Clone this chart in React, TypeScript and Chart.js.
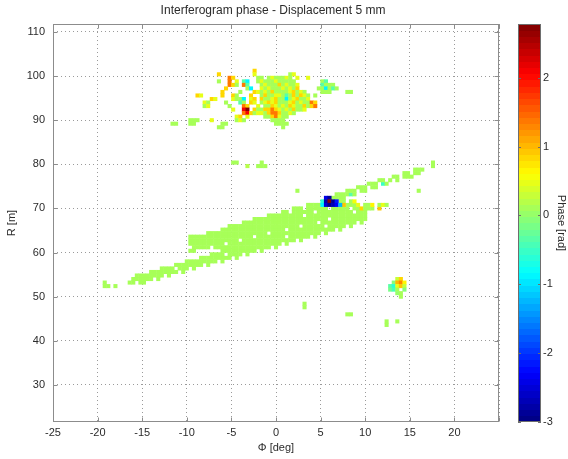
import { useEffect, useRef } from "react";
import { Chart, registerables } from "chart.js";

Chart.register(...registerables);

// Axis limits
const PHI_MIN = -25;
const PHI_MAX = 25;
const R_MIN = 21.6;
const R_MAX = 111.8;
const PHASE_MIN = -3;
const PHASE_MAX = 2.78;

const phiTicks = [-25, -20, -15, -10, -5, 0, 5, 10, 15, 20, 25];
const rTicks = [30, 40, 50, 60, 70, 80, 90, 100, 110];
const phaseTicks = [-3, -2, -1, 0, 1, 2];

// Resolution of the resampled interferogram grid
const PHI_STEP = 0.4; // deg
const R_STEP = 0.8; // m

// Phase of the coherent target band [rad]
const BAND_PHASE = 0.1;

// Target band, row by row: [R, phi from, phi to]
const bandSpans: [number, number, number][] = [
  [52.4, -19.2, -18.8],
  [52.4, -18.0, -18.0],
  [53.2, -19.2, -19.2],
  [53.2, -16.4, -14.8],
  [54.0, -16.4, -13.2],
  [54.8, -15.6, -12.0],
  [55.6, -14.4, -10.4],
  [56.4, -12.8, -9.2],
  [57.2, -11.6, -7.6],
  [58.0, -10.0, -6.0],
  [58.8, -8.4, -4.4],
  [59.6, -7.2, -3.2],
  [60.4, -9.6, -9.2],
  [60.4, -6.0, -1.6],
  [61.2, -9.6, -7.6],
  [61.2, -6.8, 0.0],
  [62.0, -9.6, -6.0],
  [62.0, -5.2, 1.2],
  [62.8, -9.6, 2.8],
  [63.6, -9.6, 4.4],
  [64.4, -8.0, 5.6],
  [65.2, -6.4, 7.2],
  [66.0, -5.2, 8.4],
  [66.8, -3.6, 9.6],
  [67.6, -2.4, 10.0],
  [68.4, -0.8, 10.0],
  [69.2, 0.8, 10.0],
  [70.0, 2.0, 10.0],
  [70.0, 10.4, 11.6],
  [70.8, 3.6, 4.8],
  [70.8, 8.0, 12.4],
  [71.6, 7.2, 8.8],
  [72.4, 6.4, 7.6],
  [73.2, 6.8, 8.8],
  [74.0, 8.0, 10.0],
  [74.8, 9.2, 11.2],
  [75.6, 10.4, 12.4],
  [76.4, 11.6, 13.6],
  [77.2, 13.2, 15.2],
  [78.0, 14.4, 16.0],
  [78.8, 15.6, 16.4],
];

// Incoherent cells inside the band: [R, phi]
const bandHoles: [number, number][] = [
  [53.2, -15.6], [54.0, -13.6], [54.8, -12.4], [55.6, -10.8], [56.4, -9.6],
  [57.2, -8.0], [58.0, -6.4], [58.8, -4.8], [59.6, -3.6], [60.4, -2.0],
  [61.2, -0.4], [62.0, 0.8], [62.8, 2.4], [63.6, 4.0], [64.4, 5.2],
  [65.2, 6.8], [66.0, 8.0], [66.8, 9.2],
  [54.0, -16.4], [55.6, -14.4], [57.2, -11.6], [61.2, -9.6],
  [64.4, -8.0], [65.2, -6.4],
  [62.8, -4.0], [63.6, -2.4], [64.4, -0.8], [65.2, 1.2], [66.0, 2.8],
  [66.8, 4.8], [67.6, 6.0], [68.4, 3.2],
  [69.2, 1.6], [69.2, 4.4], [70.0, 3.2], [70.0, 6.0], [70.0, 8.4],
  [69.2, 8.8], [70.8, 9.6], [70.8, 11.2], [70.0, 11.2], [71.6, 8.0],
  [74.0, 9.2], [74.8, 10.4], [75.6, 11.6], [76.4, 12.4], [76.4, 13.2],
  [77.2, 14.0], [78.0, 15.2],
  [56.4, -11.2], [59.6, -5.6], [63.6, 1.2], [66.0, 5.6],
];

// Cells with a different phase along the band edge: [phi, R, phase]
const bandSpeckles: [number, number, number][] = [
  [7.6, 70.8, 0.9], [9.2, 70.8, 0.5], [9.6, 70.0, 0.8], [10.8, 70.8, 0.7],
  [11.6, 70.0, 0.9], [12.0, 70.8, 0.5], [8.8, 71.6, 0.6], [12.0, 75.6, -0.5],
  [8.4, 73.2, -0.3],
];

// Phase-wrapped spot on the band: [phi, R, phase]
const spotCells: [number, number, number][] = [
  [5.2, 71.6, -0.6], [5.2, 70.8, -0.9],
  [5.6, 72.4, -2.4], [5.6, 71.6, -2.8], [5.6, 70.8, -2.5],
  [6.0, 72.4, -2.9], [6.0, 71.6, 2.7], [6.0, 70.8, -3.0],
  [6.4, 71.6, -2.9], [6.4, 70.8, -2.7],
  [6.8, 71.6, -2.1], [6.8, 70.8, -2.3],
  [7.2, 70.8, -1.2],
];

// Small reflector near 14 deg / 52 m: [phi, R, phase]
const blobCells: [number, number, number][] = [
  [13.6, 54.0, 0.3], [14.0, 54.0, 0.8],
  [13.2, 53.2, -0.1], [13.6, 53.2, 1.0], [14.0, 53.2, 1.3], [14.4, 53.2, 0.7],
  [12.8, 52.4, -0.3], [13.2, 52.4, -0.6], [13.6, 52.4, 0.5], [14.0, 52.4, 0.9], [14.4, 52.4, 0.3],
  [12.8, 51.6, -0.2], [13.2, 51.6, -0.4], [13.6, 51.6, 0.1], [14.4, 51.6, -0.1],
  [13.6, 50.8, 0.0], [14.0, 50.8, 0.1],
  [14.0, 50.0, 0.1],
];

// Isolated coherent cells: [phi, R, phase]
const isolatedCells: [number, number, number][] = [
  [-11.6, 89.2, 0.1], [-11.2, 89.2, 0.1],
  [-4.8, 80.4, 0.1], [-4.4, 80.4, 0.1],
  [-3.2, 79.6, 0.2],
  [-1.6, 80.4, 0.1], [-2.0, 79.6, 0.1], [-1.6, 79.6, 0.1], [-1.2, 79.6, 0.1],
  [2.4, 74.0, 0.1],
  [16.0, 74.0, 0.1],
  [17.6, 80.4, 0.1], [17.6, 79.6, 0.1],
  [3.2, 48.4, 0.1], [3.2, 47.6, 0.1],
  [8.0, 46.0, 0.1], [8.4, 46.0, 0.1],
  [12.4, 44.4, 0.1], [12.4, 43.6, 0.1],
  [13.6, 44.4, 0.1],
];

// Vegetation cluster at 88-101 m. Each row: [R, "column+code ..."],
// column 0 sits at CLUSTER_PHI0 and columns are PHI_STEP apart.
const CLUSTER_PHI0 = -10.0;
const clusterCodes: Record<string, number> = {
  g: 0.1, l: 0.45, y: 0.85, o: 1.4, r: 2.1, d: 2.7, c: -0.9, t: -0.35,
};
const clusterRows: [number, string][] = [
  [101.2, "19y"],
  [100.4, "9y 19l 29g 30l"],
  [99.6, "12o 13y 20g 21g 23g 24l 25g 26g 27g 28l 29g 31l 34l"],
  [98.8, "9g 12o 14l 16t 17c 20g 21l 22g 23g 24g 25l 26g 27g 28g 29g 30g 38g 39t"],
  [98.0, "12o 13y 14g 16o 17t 21g 22l 23g 24g 25g 26y 27g 28l 29g 30g 31l 38t 39g 40g 41g"],
  [97.2, "11y 17g 18c 21l 22g 23l 24g 25g 26g 27l 28g 29l 30g 31y 37g 38g 39c 40g 41t 42g"],
  [96.4, "10y 15g 19y 20l 21g 22l 23g 24y 25g 26g 27g 28g 29l 30y 31g 32l 33g 38g 39g 40g 45g 46g"],
  [95.6, "3y 4l 10y 13y 14g 18y 21g 22y 23g 24g 25l 26l 27g 28t 29g 30y 31g 32y 33l 34g 36g"],
  [94.8, "7y 8l 13l 14g 15g 16c 18l 19y 21y 22g 23g 24l 25y 26g 27g 28c 29g 30l 31y 32g 33g 34l"],
  [94.0, "5l 6g 11g 15t 16g 18y 19l 21g 22l 23y 24l 25y 26g 27g 28g 29l 30y 31g 32l 33g 34g 35o 36y"],
  [93.2, "5g 6l 12g 16o 17y 20l 22g 23g 24y 25l 26g 27l 28g 29y 30l 31g 32g 33y 34g 35y 36o"],
  [92.4, "13l 16r 17d 19y 20g 21g 22y 23y 24o 25y 26l 27g 28l 29g 30y 31g 32g 33l"],
  [91.6, "16o 17r 18y 19g 20l 21l 22g 23y 24o 25o 26y 27g 28g 29l 30g"],
  [90.8, "14l 15y 17l 22g 23g 24y 25o 26l 27g 28g"],
  [90.0, "1g 2g 3g 7l 14g 15l 16g 24g 25g 26g 27g"],
  [89.2, "1g 2g 10g 11g 25g 26g 27g 28g"],
  [88.4, "9g 10g 27g"],
];

const FONT = '"Liberation Sans", Arial, Helvetica, sans-serif';
const TEXT = "#2b2b2b";

type Cell = { x: number; y: number; v: number };

function buildCells(): Cell[] {
  const grid = new Map<string, Cell>();
  const key = (i: number, r: number) => i + ":" + Math.round(r * 10);
  const put = (phi: number, r: number, v: number) => {
    const i = Math.round(phi / PHI_STEP);
    grid.set(key(i, r), { x: i * PHI_STEP, y: r, v });
  };
  for (const [r, a, b] of bandSpans) {
    const i1 = Math.round(b / PHI_STEP);
    for (let i = Math.round(a / PHI_STEP); i <= i1; i++) put(i * PHI_STEP, r, BAND_PHASE);
  }
  for (const [r, phi] of bandHoles) grid.delete(key(Math.round(phi / PHI_STEP), r));
  for (const [phi, r, v] of bandSpeckles) put(phi, r, v);
  for (const [phi, r, v] of spotCells) put(phi, r, v);
  for (const [phi, r, v] of blobCells) put(phi, r, v);
  for (const [phi, r, v] of isolatedCells) put(phi, r, v);
  for (const [r, row] of clusterRows) {
    for (const tok of row.split(" ")) {
      const col = parseInt(tok, 10);
      const code = tok.replace(/[0-9]/g, "");
      put(CLUSTER_PHI0 + col * PHI_STEP, r, clusterCodes[code]);
    }
  }
  return Array.from(grid.values());
}

// 64-entry jet colour map
function jet(t: number): [number, number, number] {
  const idx = Math.min(63, Math.max(0, Math.floor(t * 64)));
  const u = (idx + 0.5) / 64;
  const c = (v: number) => Math.round(255 * Math.min(1, Math.max(0, v)));
  return [
    c(Math.min(4 * u - 1.5, -4 * u + 4.5)),
    c(Math.min(4 * u - 0.5, -4 * u + 3.5)),
    c(Math.min(4 * u + 0.5, -4 * u + 2.5)),
  ];
}

function phaseColor(v: number): string {
  const [r, g, b] = jet((v - PHASE_MIN) / (PHASE_MAX - PHASE_MIN));
  return `rgb(${r},${g},${b})`;
}

const axesDecor = {
  id: "axesDecor",
  afterDatasetsDraw(chart: any) {
    const { ctx, chartArea: a, scales } = chart;
    const xs = scales.x;
    const ys = scales.y;
    const cs = scales.c;
    ctx.save();

    // axes box
    const L = Math.round(a.left) + 0.5;
    const T = Math.round(a.top) + 0.5;
    const Rr = Math.round(a.right) - 0.5;
    const B = Math.round(a.bottom) - 0.5;
    ctx.strokeStyle = "#8c8c8c";
    ctx.lineWidth = 1;
    ctx.setLineDash([]);
    ctx.strokeRect(L, T, Rr - L, B - T);

    // inward tick marks on all four sides
    ctx.beginPath();
    for (const v of phiTicks) {
      const px = Math.round(xs.getPixelForValue(v)) + 0.5;
      ctx.moveTo(px, B); ctx.lineTo(px, B - 4);
      ctx.moveTo(px, T); ctx.lineTo(px, T + 4);
    }
    for (const v of rTicks) {
      const py = Math.round(ys.getPixelForValue(v)) + 0.5;
      ctx.moveTo(L, py); ctx.lineTo(L + 4, py);
      ctx.moveTo(Rr, py); ctx.lineTo(Rr - 4, py);
    }
    ctx.stroke();

    // colour bar
    const x0 = Math.round(a.right) + 19;
    const w = 23;
    const span = PHASE_MAX - PHASE_MIN;
    for (let k = 0; k < 64; k++) {
      const v0 = PHASE_MIN + (span * k) / 64;
      const v1 = PHASE_MIN + (span * (k + 1)) / 64;
      const y0 = cs.getPixelForValue(v1);
      const y1 = cs.getPixelForValue(v0);
      const [r, g, b] = jet((k + 0.5) / 64);
      ctx.fillStyle = `rgb(${r},${g},${b})`;
      ctx.fillRect(x0, Math.floor(y0), w, Math.ceil(y1) - Math.floor(y0));
    }
    const cTop = Math.round(cs.getPixelForValue(PHASE_MAX)) + 0.5;
    const cBot = Math.round(cs.getPixelForValue(PHASE_MIN)) - 0.5;
    ctx.strokeStyle = "#6e6e6e";
    ctx.strokeRect(x0 + 0.5, cTop, w - 1, cBot - cTop);
    ctx.beginPath();
    for (const v of phaseTicks) {
      const py = Math.round(cs.getPixelForValue(v)) + 0.5;
      ctx.moveTo(x0, py); ctx.lineTo(x0 + 3, py);
      ctx.moveTo(x0 + w, py); ctx.lineTo(x0 + w - 3, py);
    }
    ctx.stroke();

    // title
    ctx.fillStyle = TEXT;
    ctx.font = `12px ${FONT}`;
    ctx.textAlign = "center";
    ctx.textBaseline = "middle";
    ctx.fillText("Interferogram phase - Displacement 5 mm", (a.left + a.right) / 2 - 3, 11);
    ctx.restore();
  },
};

export default function App() {
  const canvasRef = useRef<HTMLCanvasElement | null>(null);

  useEffect(() => {
    const canvas = canvasRef.current;
    if (!canvas) return;
    const cells = buildCells();
    const cellRadius = (ctx: any) => {
      const c = ctx.chart;
      const xs = c.scales.x;
      const ys = c.scales.y;
      if (!xs || !ys) return 2.8;
      const w = Math.abs(xs.getPixelForValue(PHI_STEP) - xs.getPixelForValue(0));
      const h = Math.abs(ys.getPixelForValue(R_STEP) - ys.getPixelForValue(0));
      return (Math.max(w, h) + 0.5) / Math.SQRT2;
    };
    const tickFont = { family: FONT, size: 11 };

    const chart = new Chart(canvas, {
      type: "scatter",
      data: {
        datasets: [
          {
            data: cells.map((c) => ({ x: c.x, y: c.y })),
            backgroundColor: cells.map((c) => phaseColor(c.v)),
            pointStyle: "rect",
            pointRadius: cellRadius,
            pointHoverRadius: cellRadius,
            pointBorderWidth: 0,
            borderWidth: 0,
          },
        ],
      },
      options: {
        responsive: false,
        animation: false,
        events: [],
        layout: { padding: { top: 24, left: 0, right: 0, bottom: 0 } },
        plugins: {
          legend: { display: false },
          tooltip: { enabled: false },
          title: { display: false },
        },
        scales: {
          x: {
            type: "linear",
            position: "bottom",
            min: PHI_MIN,
            max: PHI_MAX,
            afterBuildTicks: (s: any) => {
              s.ticks = phiTicks.map((value) => ({ value }));
            },
            afterFit: (s: any) => {
              s.height = 37;
              s.paddingLeft = 0;
              s.paddingRight = 0;
            },
            ticks: {
              autoSkip: false,
              maxRotation: 0,
              padding: 4,
              color: TEXT,
              font: tickFont,
              callback: (v: any) => (v === PHI_MAX ? "" : String(v)),
            },
            grid: { color: "#9a9a9a", lineWidth: 1, drawTicks: false },
            border: { display: false, dash: [1, 3] },
            title: {
              display: true,
              text: "Φ [deg]",
              color: TEXT,
              font: tickFont,
              padding: { top: 0, bottom: 4.4 },
            },
          },
          y: {
            type: "linear",
            position: "left",
            min: R_MIN,
            max: R_MAX,
            afterBuildTicks: (s: any) => {
              s.ticks = rTicks.map((value) => ({ value }));
            },
            afterFit: (s: any) => {
              s.width = 53;
              s.paddingTop = 0;
              s.paddingBottom = 0;
            },
            ticks: { autoSkip: false, padding: 8, color: TEXT, font: tickFont },
            grid: { color: "#9a9a9a", lineWidth: 1, drawTicks: false },
            border: { display: false, dash: [1, 3] },
            title: {
              display: true,
              text: "R [m]",
              color: TEXT,
              font: tickFont,
              padding: { top: 5.4, bottom: 0 },
            },
          },
          c: {
            type: "linear",
            position: "right",
            min: PHASE_MIN,
            max: PHASE_MAX,
            afterBuildTicks: (s: any) => {
              s.ticks = phaseTicks.map((value) => ({ value }));
            },
            afterFit: (s: any) => {
              s.width = 69;
              s.paddingTop = 0;
              s.paddingBottom = 0;
            },
            ticks: { autoSkip: false, padding: 44, color: TEXT, font: tickFont },
            grid: { display: false, drawTicks: false },
            border: { display: false },
            title: {
              display: true,
              text: "Phase [rad]",
              color: TEXT,
              font: tickFont,
              padding: { top: 0, bottom: 0 },
            },
          },
        },
      } as any,
      plugins: [axesDecor],
    });

    return () => chart.destroy();
  }, []);

  return (
    <div style={{ position: "fixed", left: 0, top: 0, width: 568, height: 459, background: "#fff" }}>
      <canvas ref={canvasRef} width={568} height={459} style={{ display: "block", width: 568, height: 459 }} />
    </div>
  );
}
